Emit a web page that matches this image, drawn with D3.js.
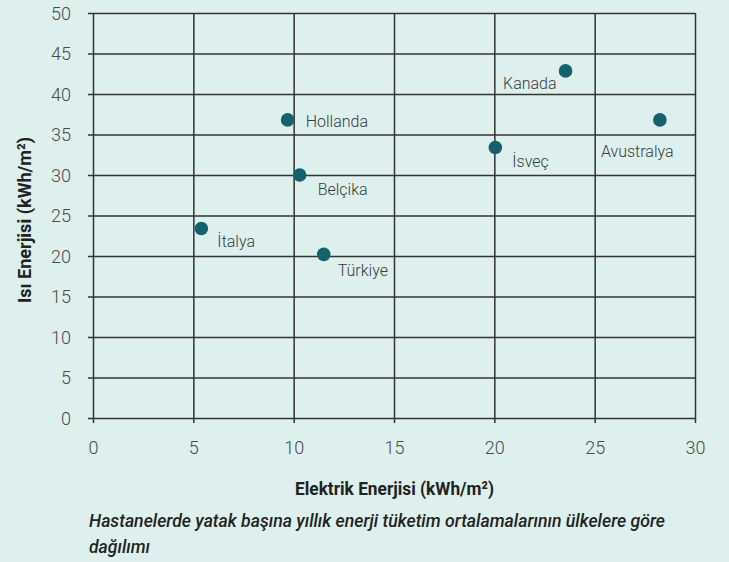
<!DOCTYPE html>
<html>
<head>
<meta charset="utf-8">
<script src="https://cdn.jsdelivr.net/npm/d3@7"></script>
<style>
  html, body { margin: 0; padding: 0; background: #ddf0ed; }
  svg { display: block; }
  .tick text { font-family: Roboto, sans-serif; font-weight: 300; font-size: 18px; fill: #4a4a4a; }
  .tick line { stroke: #333; stroke-width: 1.5; }
  .label { font-family: Roboto, sans-serif; font-weight: 300; font-size: 16px; fill: #3a3a3a; }
  .title { font-family: Roboto, sans-serif; font-weight: 700; font-size: 19px; fill: #222; }
  .caption { font-family: Roboto, sans-serif; font-style: italic; font-weight: 500; font-size: 19px; fill: #222; }
</style>
</head>
<body>
<div id="chart"></div>
<script>
// values
const countries = ["Kanada", "Avustralya", "İsveç", "Hollanda", "Belçika", "İtalya", "Türkiye"];
const electricity = [23.55, 28.25, 20.05, 9.7, 10.3, 5.4, 11.5];
const heat = [42.85, 36.8, 33.4, 36.8, 30.0, 23.4, 20.2];
const xTicks = [0, 5, 10, 15, 20, 25, 30];
const yTicks = [0, 5, 10, 15, 20, 25, 30, 35, 40, 45, 50];

// where each country name sits relative to its dot
const labelPlace = {
    "Kanada": { dx: -9, dy: 18, anchor: "end" },
    "Avustralya": { dx: -59, dy: 37, anchor: "start" },
    "İsveç": { dx: 17, dy: 20, anchor: "start" },
    "Hollanda": { dx: 18, dy: 7, anchor: "start" },
    "Belçika": { dx: 18, dy: 20, anchor: "start" },
    "İtalya": { dx: 16, dy: 19, anchor: "start" },
    "Türkiye": { dx: 14, dy: 22, anchor: "start" }
};

const W = 729, H = 562;
const margin = { left: 93, top: 13 };
const width = 602, height = 405;

const svg = d3.select("#chart").append("svg")
    .attr("width", W)
    .attr("height", H);

const g = svg.append("g").attr("transform", `translate(${margin.left},${margin.top})`);

const x = d3.scaleLinear().domain([0, 30]).range([0, width]);
const y = d3.scaleLinear().domain([0, 50]).range([height, 0]);

// y grid + labels
const yAxis = g.append("g")
    .call(d3.axisLeft(y).tickValues(yTicks).tickSize(-width).tickPadding(0));
yAxis.select(".domain").remove();
yAxis.selectAll(".tick line").attr("x1", -5);
yAxis.selectAll(".tick text").attr("x", -22).attr("dy", "0.35em");

// x grid + labels
const xAxis = g.append("g")
    .attr("transform", `translate(0,${height})`)
    .call(d3.axisBottom(x).tickValues(xTicks).tickSize(-height));
xAxis.select(".domain").remove();
xAxis.selectAll(".tick line").attr("y1", 5);
xAxis.selectAll(".tick text").attr("y", 36).attr("dy", 0);

const points = countries.map((c, i) => ({ name: c, ex: electricity[i], hx: heat[i] }));

g.selectAll("circle.dot")
    .data(points)
    .enter()
    .append("circle")
    .attr("class", "dot")
    .attr("cx", d => x(d.ex))
    .attr("cy", d => y(d.hx))
    .attr("r", 6.8)
    .attr("fill", "#15616d");

g.selectAll("text.label")
    .data(points)
    .enter()
    .append("text")
    .attr("class", "label")
    .attr("x", d => x(d.ex) + labelPlace[d.name].dx)
    .attr("y", d => y(d.hx) + labelPlace[d.name].dy)
    .attr("text-anchor", d => labelPlace[d.name].anchor)
    .text(d => d.name);

// axis titles (condensed face squeezed to the reference width)
svg.append("text")
    .attr("class", "title")
    .attr("x", 295)
    .attr("y", 495)
    .attr("textLength", 199)
    .attr("lengthAdjust", "spacingAndGlyphs")
    .text("Elektrik Enerjisi (kWh/m²)");

svg.append("text")
    .attr("class", "title")
    .attr("transform", "translate(31,303) rotate(-90)")
    .attr("textLength", 166)
    .attr("lengthAdjust", "spacingAndGlyphs")
    .text("Isı Enerjisi (kWh/m²)");

// caption
svg.append("text")
    .attr("class", "caption")
    .attr("x", 89)
    .attr("y", 527)
    .attr("textLength", 576)
    .attr("lengthAdjust", "spacingAndGlyphs")
    .text("Hastanelerde yatak başına yıllık enerji tüketim ortalamalarının ülkelere göre");

svg.append("text")
    .attr("class", "caption")
    .attr("x", 89)
    .attr("y", 553)
    .attr("textLength", 61)
    .attr("lengthAdjust", "spacingAndGlyphs")
    .text("dağılımı");
</script>
</body>
</html>
